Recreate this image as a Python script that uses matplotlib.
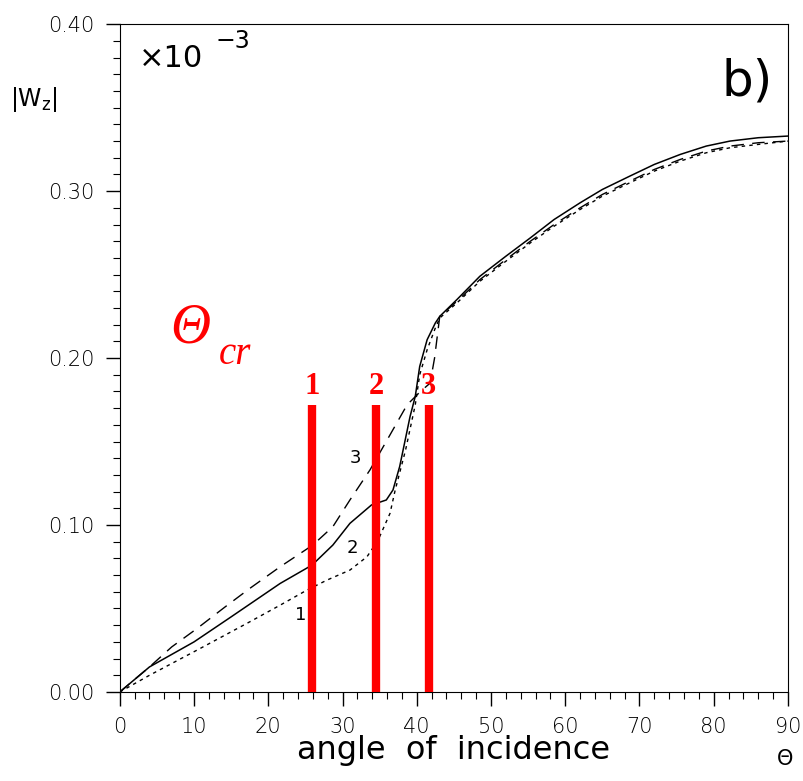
import matplotlib
matplotlib.use("Agg")
import matplotlib.pyplot as plt
from matplotlib.ticker import MultipleLocator, FormatStrFormatter

# curva continua
x_solid = [0, 4, 10, 15, 21.6, 25.9, 28.7, 31, 33.9, 35.9, 36.8, 37.7, 39.1, 39.8,
           40.4, 41.4, 42.5, 43.1, 45.4, 48.5, 52, 55.3, 58.5, 62, 65, 68.7, 72,
           75.5, 79, 82.2, 86, 90]
y_solid = [0, 0.015, 0.030, 0.045, 0.065, 0.076, 0.088, 0.101, 0.112, 0.115, 0.121,
           0.135, 0.165, 0.177, 0.195, 0.211, 0.221, 0.225, 0.235, 0.249, 0.261,
           0.272, 0.283, 0.293, 0.301, 0.309, 0.316, 0.322, 0.327, 0.330, 0.332,
           0.333]

# curva tracejada (3)
x_dash = [0, 4, 7, 10.4, 14.2, 17.5, 21.6, 26, 28.7, 31, 33.7, 36.4, 38.7, 40.5,
          41.8, 42.4, 43.1, 45.4, 48.5, 52, 55.3, 58.5, 62, 65, 68.7, 72, 75.5,
          79, 82.2, 86, 90]
y_dash = [0, 0.015, 0.027, 0.038, 0.051, 0.062, 0.075, 0.088, 0.099, 0.115, 0.133,
          0.154, 0.172, 0.180, 0.185, 0.200, 0.225, 0.234, 0.247, 0.259, 0.270,
          0.280, 0.290, 0.298, 0.306, 0.313, 0.319, 0.324, 0.327, 0.329, 0.330]

# curva pontilhada (1)
x_dot = [0, 4, 10.8, 17.5, 21.6, 25.2, 27.9, 31, 33.3, 34.8, 35.4, 36.4, 37.1, 38.5,
         39.8, 40.4, 41.4, 42.5, 43.1, 45.4, 48.5, 52, 55.3, 58.5, 62, 65, 68.7,
         72, 75.5, 79, 82.2, 86, 90]
y_dot = [0, 0.010, 0.026, 0.042, 0.052, 0.061, 0.067, 0.073, 0.081, 0.091, 0.097,
         0.107, 0.121, 0.145, 0.172, 0.190, 0.205, 0.218, 0.224, 0.233, 0.246,
         0.258, 0.269, 0.279, 0.289, 0.297, 0.305, 0.312, 0.318, 0.323, 0.326,
         0.328, 0.330]

# angulos criticos
theta_cr = [25.9, 34.5, 41.6]
theta_cr_labels = ["1", "2", "3"]
bar_top = 0.172

# rotulos das curvas
curve_labels = ["1", "2", "3"]
curve_label_x = [24.3, 31.3, 31.7]
curve_label_y = [0.046, 0.086, 0.140]

fig = plt.figure(figsize=(8.04, 7.81), dpi=100)
ax = fig.add_axes([0.149, 0.114, 0.831, 0.855])

ax.plot(x_solid, y_solid, color="black", lw=1.1)
ax.plot(x_dash, y_dash, color="black", lw=1.0, dashes=(9, 6))
ax.plot(x_dot, y_dot, color="black", lw=1.0, dashes=(2.5, 3))

for x, lab in zip(theta_cr, theta_cr_labels):
    ax.plot([x, x], [0, bar_top], color="red", lw=6, solid_capstyle="butt", zorder=5)
    ax.text(x, bar_top + 0.002, lab, color="red", fontsize=22, fontweight="bold",
            family="Liberation Serif", ha="center", va="bottom", zorder=6)

for x, y, lab in zip(curve_label_x, curve_label_y, curve_labels):
    ax.text(x, y, lab, fontsize=13, ha="center", va="center")

# Theta critico, em italico
ax.text(6.8, 0.218, "Θ", color="red", fontsize=40, style="italic",
        family="Liberation Serif", ha="left", va="center")
ax.text(13.3, 0.202, "cr", color="red", fontsize=28, style="italic",
        family="Liberation Serif", ha="left", va="center")

ax.set_xlim(0, 90)
ax.set_ylim(0, 0.40)
ax.xaxis.set_major_locator(MultipleLocator(10))
ax.xaxis.set_minor_locator(MultipleLocator(2))
ax.yaxis.set_major_locator(MultipleLocator(0.1))
ax.yaxis.set_minor_locator(MultipleLocator(0.01))
ax.yaxis.set_major_formatter(FormatStrFormatter("%.2f"))
ax.tick_params(which="major", length=10, width=1.0, labelsize=15, pad=8)
ax.tick_params(which="minor", length=5, width=0.8)
for lab in ax.get_xticklabels() + ax.get_yticklabels():
    lab.set_family("DejaVu Sans")
    lab.set_fontweight("light")

ax.text(0.5, -0.065, "angle  of  incidence", transform=ax.transAxes, fontsize=23,
        ha="center", va="top")
ax.text(0.995, -0.085, "Θ", transform=ax.transAxes, fontsize=15, ha="center", va="top")
fig.text(0.012, 0.872, "|W$_\\mathregular{z}$|", fontsize=17, ha="left", va="center")
ax.text(0.028, 0.97, "×10", transform=ax.transAxes, fontsize=22, ha="left", va="top")
ax.text(0.143, 0.993, "−3", transform=ax.transAxes, fontsize=17, ha="left", va="top")
ax.text(0.9, 0.95, "b)", transform=ax.transAxes, fontsize=36, ha="left", va="top")

fig.savefig("out.png", dpi=100)
